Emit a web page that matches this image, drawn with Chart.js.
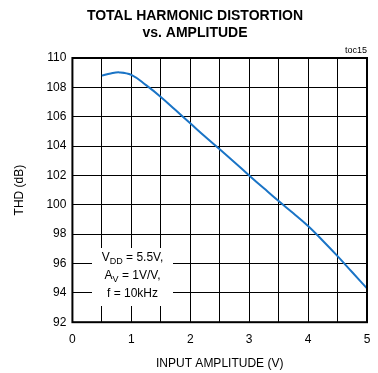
<!DOCTYPE html>
<html>
<head>
<meta charset="utf-8">
<script src="https://cdn.jsdelivr.net/npm/chart.js@4/dist/chart.umd.min.js"></script>
<style>
  html, body { margin: 0; padding: 0; background: #fff; }
  #wrap { width: 378px; height: 373px; }
</style>
</head>
<body>
<div id="wrap"><canvas id="thdChart" width="378" height="373"></canvas></div>
<script>
const amplitude = [0.5, 0.65, 0.8, 1.0, 1.25, 1.5, 1.75, 2, 2.25, 2.5, 2.75, 3, 3.25, 3.5, 3.75, 4, 4.25, 4.5, 4.75, 5];
const thd = [108.8, 108.95, 109.02, 108.85, 108.15, 107.35, 106.45, 105.55, 104.65, 103.78, 102.9, 102.0, 101.12, 100.25, 99.42, 98.55, 97.55, 96.5, 95.4, 94.3];
const titleLines = ['TOTAL HARMONIC DISTORTION', 'vs. AMPLITUDE'];
const noteLines = [['V', 'DD', ' = 5.5V,'], ['A', 'V', ' = 1V/V,'], ['f = 10kHz', '', '']];

const FONT = 'Liberation Sans, Arial, sans-serif';

const extras = {
  id: 'extras',
  afterDraw(chart) {
    const c = chart.ctx;
    const a = chart.chartArea;
    c.save();
    // note box
    const bx = 92, by = 248, bw = 81, bh = 58;
    c.fillStyle = '#fff';
    c.fillRect(bx, by, bw, bh);
    c.fillStyle = '#000';
    c.textBaseline = 'middle';
    const cx = bx + bw / 2;
    noteLines.forEach(function (ln, i) {
      const yy = by + 10 + i * 18;
      c.font = '12px ' + FONT;
      const w1 = c.measureText(ln[0]).width;
      const w3 = c.measureText(ln[2]).width;
      c.font = '9px ' + FONT;
      const w2 = c.measureText(ln[1]).width;
      let sx = cx - (w1 + w2 + w3) / 2;
      c.textAlign = 'left';
      c.font = '12px ' + FONT;
      c.fillText(ln[0], sx, yy);
      c.font = '9px ' + FONT;
      c.fillText(ln[1], sx + w1, yy + 4);
      c.font = '12px ' + FONT;
      c.fillText(ln[2], sx + w1 + w2, yy);
    });
    // frame
    c.strokeStyle = '#000';
    c.lineWidth = 2;
    c.strokeRect(a.left, a.top, a.right - a.left, a.bottom - a.top);
    // toc label
    c.font = '9px ' + FONT;
    c.textAlign = 'right';
    c.textBaseline = 'bottom';
    c.fillText('toc15', a.right, a.top - 3);
    c.restore();
  }
};

new Chart(document.getElementById('thdChart'), {
  type: 'line',
  data: {
    datasets: [{
      data: amplitude.map(function (v, i) { return { x: v, y: thd[i] }; }),
      borderColor: '#1a74c6',
      borderWidth: 2,
      pointRadius: 0,
      tension: 0.4,
      fill: false
    }]
  },
  options: {
    responsive: false,
    animation: false,
    layout: { padding: { left: 12, right: 0, top: 0, bottom: 0 } },
    plugins: {
      legend: { display: false },
      tooltip: { enabled: false },
      title: {
        display: true,
        text: titleLines,
        color: '#000',
        font: { family: FONT, size: 14, weight: 'bold', lineHeight: 1.25 },
        padding: { top: 7, bottom: 16 }
      }
    },
    scales: {
      x: {
        type: 'linear',
        min: 0,
        max: 5,
        afterFit: function (scale) { scale.paddingRight = 11; },
        ticks: {
          stepSize: 0.5,
          color: '#000',
          font: { family: FONT, size: 12 },
          padding: 10,
          maxRotation: 0,
          callback: function (v) { return Number.isInteger(v) ? v : ''; }
        },
        grid: { color: '#000', lineWidth: 1, drawTicks: false },
        border: { display: false },
        title: {
          display: true,
          text: 'INPUT AMPLITUDE (V)',
          color: '#000',
          font: { family: FONT, size: 12 },
          padding: { top: 0, bottom: 2 }
        }
      },
      y: {
        min: 92,
        max: 110,
        ticks: {
          stepSize: 2,
          color: '#000',
          font: { family: FONT, size: 12 },
          padding: 6
        },
        grid: { color: '#000', lineWidth: 1, drawTicks: false },
        border: { display: false },
        title: {
          display: true,
          text: 'THD (dB)',
          color: '#000',
          font: { family: FONT, size: 12 },
          padding: { top: 0, bottom: 14 }
        }
      }
    }
  },
  plugins: [extras]
});
</script>
</body>
</html>
